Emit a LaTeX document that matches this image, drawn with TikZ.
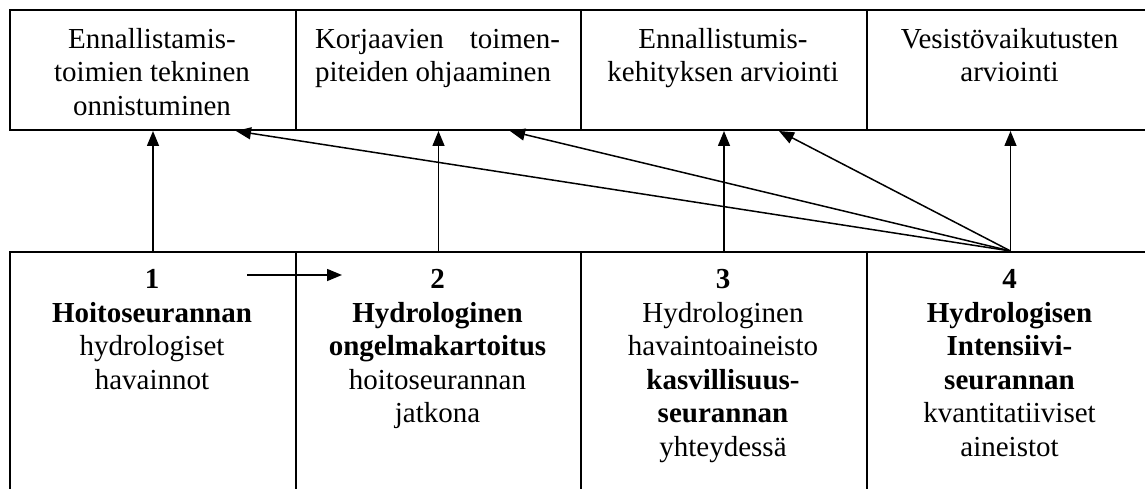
\documentclass[tikz,border=0pt]{standalone}
\usepackage{fontspec}
\setmainfont{Liberation Serif}
\usetikzlibrary{arrows.meta}
\newcommand\lnstrut{\rule{0pt}{24pt}}
\begin{document}
\begin{tikzpicture}[x=1pt,y=-1pt,
  cell/.style={draw, line width=2pt, rectangle, inner sep=0pt, anchor=north west},
  txt/.style={anchor=north, inner sep=0pt, align=center, font=\fontsize{29}{33.5}\selectfont},
  arr/.style={line width=1.5pt, -{Triangle[length=15pt,width=12pt]}}]
\useasboundingbox (0,0) rectangle (1145,489);
\clip (0,0) rectangle (1145,489);

% upper row: goals
\node[cell, minimum width=286pt, minimum height=120pt] (t1) at (9,9) {};
\node[cell, minimum width=285pt, minimum height=120pt] (t2) at (295,9) {};
\node[cell, minimum width=286pt, minimum height=120pt] (t3) at (580,9) {};
\node[cell, minimum width=287pt, minimum height=120pt] (t4) at (866,9) {};

% lower row: data sources
\node[cell, minimum width=286pt, minimum height=280pt] (b1) at (9,251) {};
\node[cell, minimum width=285pt, minimum height=280pt] (b2) at (295,251) {};
\node[cell, minimum width=286pt, minimum height=280pt] (b3) at (580,251) {};
\node[cell, minimum width=287pt, minimum height=280pt] (b4) at (866,251) {};

% upper texts
\node[txt] (t1x) at (152,24) {\lnstrut Ennallistamis-\\toimien tekninen\\onnistuminen};
\node[txt, align=left] (t2x) at (437.5,24) {\lnstrut\makebox[245pt][s]{Korjaavien toimen-}\\piteiden ohjaaminen};
\node[txt] (t3x) at (723,24) {\lnstrut Ennallistumis-\\kehityksen arviointi};
\node[txt] (t4x) at (1009.5,24) {\lnstrut Vesistövaikutusten\\arviointi};

% lower texts
\node[txt] (b1x) at (152,264.5) {\lnstrut\textbf{1}\\\textbf{Hoitoseurannan}\\hydrologiset\\havainnot};
\node[txt] (b2x) at (437.5,264.5) {\lnstrut\textbf{2}\\\textbf{Hydrologinen}\\\textbf{ongelmakartoitus}\\hoitoseurannan\\jatkona};
\node[txt] (b3x) at (723,264.5) {\lnstrut\textbf{3}\\Hydrologinen\\havaintoaineisto\\\textbf{kasvillisuus-}\\\textbf{seurannan}\\yhteydessä};
\node[txt] (b4x) at (1009.5,264.5) {\lnstrut\textbf{4}\\\textbf{Hydrologisen}\\\textbf{Intensiivi-}\\\textbf{seurannan}\\kvantitatiiviset\\aineistot};

% arrow ends on the upper boxes
\coordinate (e1) at ([xshift=-61pt]t1.south east);
\coordinate (e2) at ([xshift=-72pt]t2.south east);
\coordinate (e3) at ([xshift=-89pt]t3.south east);

% vertical links
\draw[arr] (b1.north) -- (t1.south);
\draw[arr] (b2.north) -- (t2.south);
\draw[arr] (b3.north) -- (t3.south);
\draw[arr] (b4.north) -- (t4.south);

% fan from source 4
\draw[arr] (b4.north) -- (e1);
\draw[arr] (b4.north) -- (e2);
\draw[arr] (b4.north) -- (e3);

% continuation from 1 to 2
\coordinate (h1) at (247,275);
\coordinate (h2) at (342,275);
\draw[arr] (h1) -- (h2);
\end{tikzpicture}
\end{document}
